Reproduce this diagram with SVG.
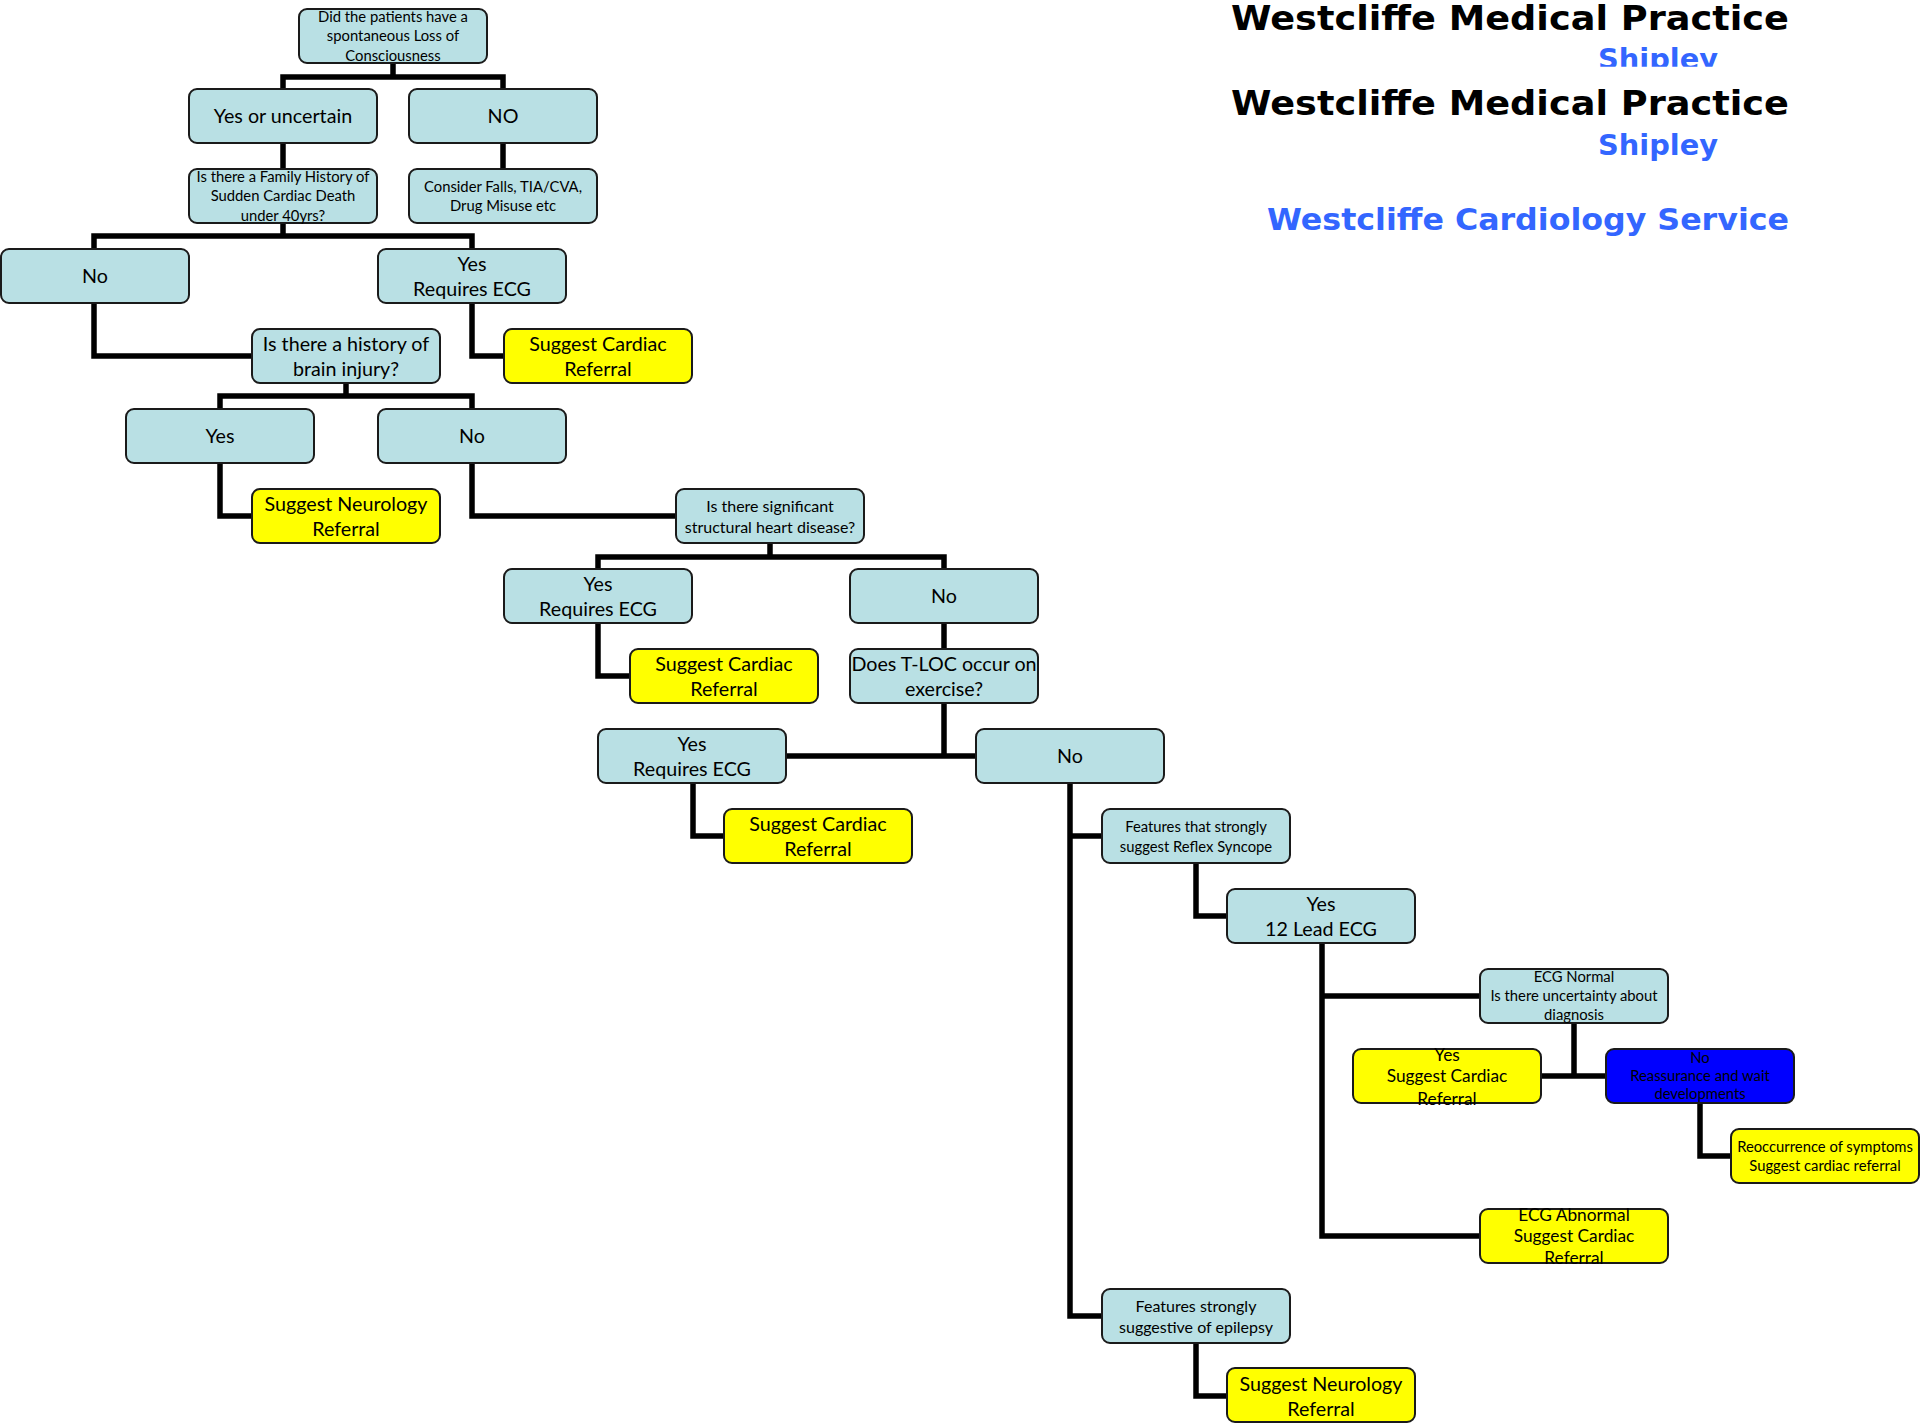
<svg xmlns="http://www.w3.org/2000/svg" width="1920" height="1423" viewBox="0 0 1920 1423">
  <style>
    .wire { fill: none; stroke: #000; stroke-width: 5.5; stroke-linejoin: miter; stroke-linecap: butt; }
    .box { stroke: #1a1a1a; stroke-width: 2; }
    .aqua { fill: #B9E0E4; }
    .yel { fill: #FFFF00; }
    .blu { fill: #0000FF; }
    text { fill: #000; text-anchor: middle; font-family: Lato, "Liberation Sans", sans-serif; }
    .tL { font-size: 19.7px; }
    .tM { font-size: 16px; }
    .tN { font-size: 17.3px; }
    .tS { font-size: 14.8px; }
    .head { font-family: "DejaVu Sans", Verdana, sans-serif; font-weight: bold; text-anchor: start; }
    .ink { fill: #000; }
    .sky { fill: #3366FF; }
  </style>
  <defs>
    <clipPath id="clipTop">
      <rect x="1100" y="0" width="820" height="66.7"/>
    </clipPath>
  </defs>

  <!-- headings -->
  <g id="headings">
    <text class="head ink" x="1231" y="29.5" font-size="33" textLength="558" lengthAdjust="spacingAndGlyphs">Westcliffe Medical Practice</text>
    <text class="head sky" x="1598" y="68.5" font-size="29" textLength="120" lengthAdjust="spacingAndGlyphs" clip-path="url(#clipTop)">Shipley</text>
    <text class="head ink" x="1231" y="115" font-size="33" textLength="558" lengthAdjust="spacingAndGlyphs">Westcliffe Medical Practice</text>
    <text class="head sky" x="1598" y="154.5" font-size="29" textLength="120" lengthAdjust="spacingAndGlyphs">Shipley</text>
    <text class="head sky" x="1267" y="230" font-size="31" textLength="522" lengthAdjust="spacingAndGlyphs">Westcliffe Cardiology Service</text>
  </g>

  <!-- connectors -->
  <g id="connectors">
    <path class="wire" d="M393,63V77 M283,89V77H503V89"/>
    <path class="wire" d="M283,143V169"/>
    <path class="wire" d="M503,143V169"/>
    <path class="wire" d="M283,223V236 M94,249V236H472V249"/>
    <path class="wire" d="M94,303V356H252"/>
    <path class="wire" d="M472,303V356H504"/>
    <path class="wire" d="M346,383V396 M220,409V396H472V409"/>
    <path class="wire" d="M220,463V516H252"/>
    <path class="wire" d="M472,463V516H676"/>
    <path class="wire" d="M770,543V557 M598,569V557H944V569"/>
    <path class="wire" d="M598,623V676H630"/>
    <path class="wire" d="M944,623V649"/>
    <path class="wire" d="M944,703V756 M786,756H976"/>
    <path class="wire" d="M693,783V836H724"/>
    <path class="wire" d="M1070,783V1316H1102 M1070,836H1102"/>
    <path class="wire" d="M1196,863V916H1227"/>
    <path class="wire" d="M1322,943V1236H1480 M1322,996H1480"/>
    <path class="wire" d="M1574,1023V1076 M1541,1076H1606"/>
    <path class="wire" d="M1700,1103V1156H1731"/>
    <path class="wire" d="M1196,1343V1396H1227"/>
  </g>

  <!-- nodes -->
  <g id="n-root">
    <rect class="box aqua" x="299" y="9" width="188" height="54" rx="8"/>
    <text class="tS" x="393" y="21.9">Did the patients have a</text>
    <text class="tS" x="393" y="41.4">spontaneous Loss of</text>
    <text class="tS" x="393" y="60.9">Consciousness</text>
  </g>
  <g id="n-loc-yes">
    <rect class="box aqua" x="189" y="89" width="188" height="54" rx="8"/>
    <text class="tL" x="283" y="123.3">Yes or uncertain</text>
  </g>
  <g id="n-loc-no">
    <rect class="box aqua" x="409" y="89" width="188" height="54" rx="8"/>
    <text class="tL" x="503" y="123.3">NO</text>
  </g>
  <g id="n-family">
    <rect class="box aqua" x="189" y="169" width="188" height="54" rx="8"/>
    <text class="tS" x="283" y="181.9">Is there a Family History of</text>
    <text class="tS" x="283" y="201.4">Sudden Cardiac Death</text>
    <text class="tS" x="283" y="220.9">under 40yrs?</text>
  </g>
  <g id="n-falls">
    <rect class="box aqua" x="409" y="169" width="188" height="54" rx="8"/>
    <text class="tS" x="503" y="191.9">Consider Falls, TIA/CVA,</text>
    <text class="tS" x="503" y="210.9">Drug Misuse etc</text>
  </g>
  <g id="n-family-no">
    <rect class="box aqua" x="1" y="249" width="188" height="54" rx="8"/>
    <text class="tL" x="95" y="283.3">No</text>
  </g>
  <g id="n-family-yes">
    <rect class="box aqua" x="378" y="249" width="188" height="54" rx="8"/>
    <text class="tL" x="472" y="270.7">Yes</text>
    <text class="tL" x="472" y="296">Requires ECG</text>
  </g>
  <g id="n-brain">
    <rect class="box aqua" x="252" y="329" width="188" height="54" rx="8"/>
    <text class="tL" x="346" y="350.8">Is there a history of</text>
    <text class="tL" x="346" y="375.6">brain injury?</text>
  </g>
  <g id="n-cardiac-1">
    <rect class="box yel" x="504" y="329" width="188" height="54" rx="8"/>
    <text class="tL" x="598" y="350.8">Suggest Cardiac</text>
    <text class="tL" x="598" y="375.6">Referral</text>
  </g>
  <g id="n-brain-yes">
    <rect class="box aqua" x="126" y="409" width="188" height="54" rx="8"/>
    <text class="tL" x="220" y="443.3">Yes</text>
  </g>
  <g id="n-brain-no">
    <rect class="box aqua" x="378" y="409" width="188" height="54" rx="8"/>
    <text class="tL" x="472" y="443.3">No</text>
  </g>
  <g id="n-neuro-1">
    <rect class="box yel" x="252" y="489" width="188" height="54" rx="8"/>
    <text class="tL" x="346" y="510.7">Suggest Neurology</text>
    <text class="tL" x="346" y="536">Referral</text>
  </g>
  <g id="n-heart">
    <rect class="box aqua" x="676" y="489" width="188" height="54" rx="8"/>
    <text class="tM" x="770" y="511.5">Is there significant</text>
    <text class="tM" x="770" y="532.5">structural heart disease?</text>
  </g>
  <g id="n-heart-yes">
    <rect class="box aqua" x="504" y="569" width="188" height="54" rx="8"/>
    <text class="tL" x="598" y="590.7">Yes</text>
    <text class="tL" x="598" y="616">Requires ECG</text>
  </g>
  <g id="n-heart-no">
    <rect class="box aqua" x="850" y="569" width="188" height="54" rx="8"/>
    <text class="tL" x="944" y="603.3">No</text>
  </g>
  <g id="n-cardiac-2">
    <rect class="box yel" x="630" y="649" width="188" height="54" rx="8"/>
    <text class="tL" x="724" y="670.7">Suggest Cardiac</text>
    <text class="tL" x="724" y="696">Referral</text>
  </g>
  <g id="n-tloc">
    <rect class="box aqua" x="850" y="649" width="188" height="54" rx="8"/>
    <text class="tL" x="944" y="670.7">Does T-LOC occur on</text>
    <text class="tL" x="944" y="696">exercise?</text>
  </g>
  <g id="n-tloc-yes">
    <rect class="box aqua" x="598" y="729" width="188" height="54" rx="8"/>
    <text class="tL" x="692" y="750.7">Yes</text>
    <text class="tL" x="692" y="776">Requires ECG</text>
  </g>
  <g id="n-tloc-no">
    <rect class="box aqua" x="976" y="729" width="188" height="54" rx="8"/>
    <text class="tL" x="1070" y="763.3">No</text>
  </g>
  <g id="n-cardiac-3">
    <rect class="box yel" x="724" y="809" width="188" height="54" rx="8"/>
    <text class="tL" x="818" y="830.7">Suggest Cardiac</text>
    <text class="tL" x="818" y="856">Referral</text>
  </g>
  <g id="n-reflex">
    <rect class="box aqua" x="1102" y="809" width="188" height="54" rx="8"/>
    <text class="tS" x="1196" y="831.5">Features that strongly</text>
    <text class="tS" x="1196" y="851.5">suggest Reflex Syncope</text>
  </g>
  <g id="n-ecg12">
    <rect class="box aqua" x="1227" y="889" width="188" height="54" rx="8"/>
    <text class="tL" x="1321" y="910.7">Yes</text>
    <text class="tL" x="1321" y="936">12 Lead ECG</text>
  </g>
  <g id="n-ecg-normal">
    <rect class="box aqua" x="1480" y="969" width="188" height="54" rx="8"/>
    <text class="tS" x="1574" y="982.4">ECG Normal</text>
    <text class="tS" x="1574" y="1001.3">Is there uncertainty about</text>
    <text class="tS" x="1574" y="1020.1">diagnosis</text>
  </g>
  <g id="n-unsure-yes">
    <rect class="box yel" x="1353" y="1049" width="188" height="54" rx="8"/>
    <text class="tN" x="1447" y="1060.6">Yes</text>
    <text class="tN" x="1447" y="1082.3">Suggest Cardiac</text>
    <text class="tN" x="1447" y="1104.6">Referral</text>
  </g>
  <g id="n-unsure-no">
    <rect class="box blu" x="1606" y="1049" width="188" height="54" rx="8"/>
    <text class="tS" x="1700" y="1062.6">No</text>
    <text class="tS" x="1700" y="1081">Reassurance and wait</text>
    <text class="tS" x="1700" y="1099.3">developments</text>
  </g>
  <g id="n-recur">
    <rect class="box yel" x="1731" y="1129" width="188" height="54" rx="8"/>
    <text class="tS" x="1825" y="1152.1">Reoccurrence of symptoms</text>
    <text class="tS" x="1825" y="1171.1">Suggest cardiac referral</text>
  </g>
  <g id="n-ecg-abnormal">
    <rect class="box yel" x="1480" y="1209" width="188" height="54" rx="8"/>
    <text class="tN" x="1574" y="1221">ECG Abnormal</text>
    <text class="tN" x="1574" y="1242.3">Suggest Cardiac</text>
    <text class="tN" x="1574" y="1263.6">Referral</text>
  </g>
  <g id="n-epilepsy">
    <rect class="box aqua" x="1102" y="1289" width="188" height="54" rx="8"/>
    <text class="tM" x="1196" y="1311.6">Features strongly</text>
    <text class="tM" x="1196" y="1332.6">suggestive of epilepsy</text>
  </g>
  <g id="n-neuro-2">
    <rect class="box yel" x="1227" y="1368" width="188" height="54" rx="8"/>
    <text class="tL" x="1321" y="1390.5">Suggest Neurology</text>
    <text class="tL" x="1321" y="1415.5">Referral</text>
  </g>
</svg>
